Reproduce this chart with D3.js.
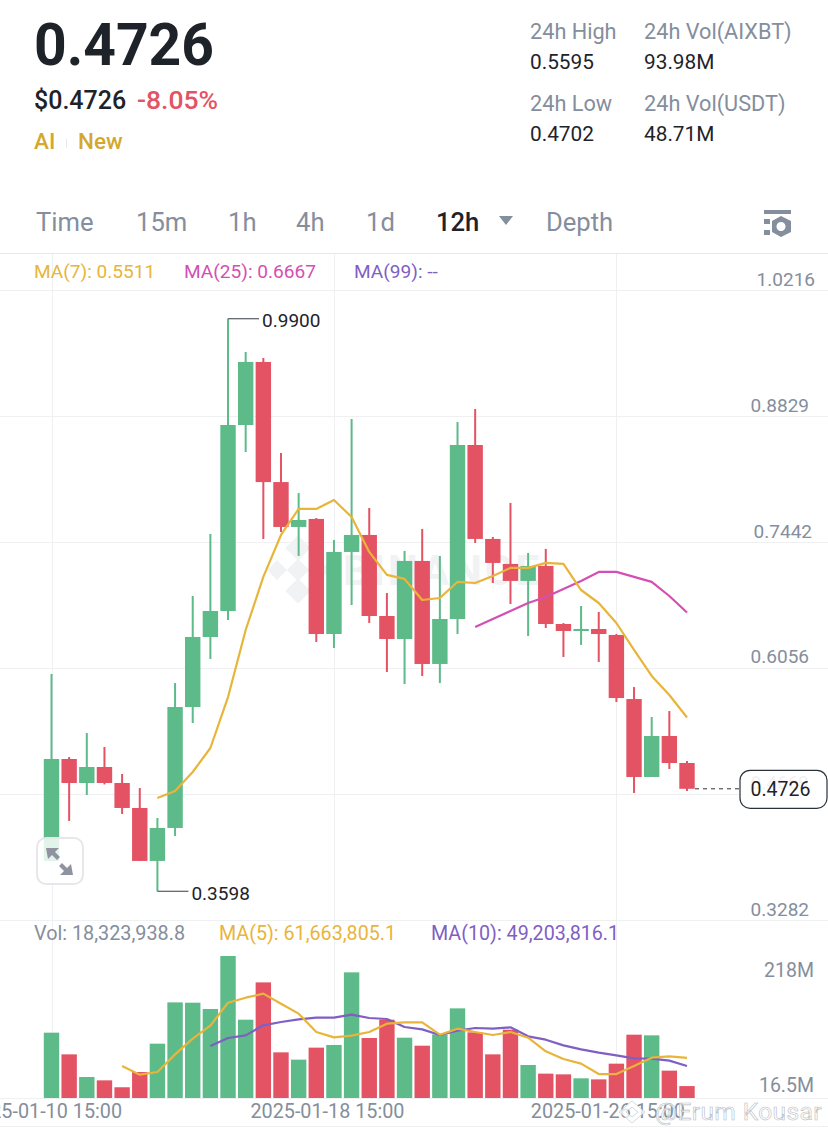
<!DOCTYPE html>
<html>
<head>
<meta charset="utf-8">
<script src="https://cdn.jsdelivr.net/npm/d3@7"></script>
<style>
  html, body { margin: 0; padding: 0; background: #fff; overflow: hidden; }
  svg { display: block; }
  text { font-family: Roboto, sans-serif; }
</style>
</head>
<body>
<div id="chart"></div>
<script>
// candles, 12h each
const opens  = [.3932,.5054,.4790,.4966,.4790,.4515,.3932,.4295,.5626,.6397,.6683,.8730,.9424,.8102,.7608,.7696,.6430,.7333,.7520,.6628,.6375,.7234,.6100,.6595,.8510,.7476,.7201,.7014,.7179,.6540,.6463,.6485,.6419,.5714,.4856,.5307,.5010];
const closes = [.5054,.4790,.4966,.4790,.4515,.3932,.4295,.5626,.6397,.6683,.8730,.9424,.8102,.7608,.7685,.6430,.7333,.7520,.6628,.6375,.7234,.6100,.6595,.8510,.7476,.7212,.7014,.7179,.6540,.6463,.6485,.6430,.5725,.4856,.5307,.5010,.4726];
const highs  = [.5990,.5076,.5340,.5186,.4889,.4735,.4405,.5890,.6848,.7531,.9900,.9534,.9468,.8422,.7982,.7706,.7465,.8796,.7817,.6881,.7344,.7586,.7289,.8763,.8906,.7498,.7872,.7322,.7366,.6550,.6738,.6672,.6430,.5846,.5516,.5582,.5032];
const lows   = [.3932,.4372,.4658,.4774,.4449,.3932,.3598,.4207,.5450,.6155,.6584,.8433,.7476,.7553,.7289,.6342,.6276,.6749,.6551,.6012,.5879,.5968,.5890,.6430,.7432,.6991,.6760,.6408,.6496,.6177,.6309,.6122,.5681,.4680,.4856,.4944,.4702];

const ma7 = [null,null,null,null,null,null,.4625,.4702,.4911,.5175,.5736,.6474,.7058,.7520,.7806,.7806,.7905,.7718,.7333,.7080,.7036,.6804,.6826,.7003,.6991,.7069,.7157,.7157,.7212,.7201,.6914,.6771,.6551,.6254,.5968,.5758,.5511];
const ma25 = [null,null,null,null,null,null,null,null,null,null,null,null,null,null,null,null,null,null,null,null,null,null,null,null,.6507,.6595,.6683,.6771,.6837,.6925,.7014,.7113,.7113,.7058,.7003,.6848,.6667];

// volume in millions
const volumes = [100.3,67.0,32.2,27.1,16.5,39.9,83.4,146.8,146.3,136.6,218,120.2,177.5,70.1,58.9,77.3,81.4,192.9,92.1,120.2,92.6,80.3,97.7,137.6,100.8,67.0,104.9,50.7,37.4,36.3,30.2,28.6,52.7,97.2,96.2,42.0,18.3];
const volMa5 = [null,null,null,null,49.1,35.8,39.9,67.0,91.1,111.0,146.3,154.0,160.2,144.8,129.5,101.3,93.1,95.7,101.3,114.1,116.2,116.2,97.2,106.4,101.3,96.7,101.3,92.6,71.6,59.9,52.7,36.8,36.8,49.1,61.9,64.0,61.66];
const volMa10 = [null,null,null,null,null,null,null,null,null,79.8,92.1,96.2,111.6,116.7,120.8,123.3,123.3,127.9,122.8,121.3,109.0,105.4,96.7,103.4,107.5,106.4,108.5,94.7,89.5,80.8,74.7,69.6,65.5,60.9,60.4,57.3,49.2];

// axis labels
const priceTicks = [1.0216,.8829,.7442,.6056,.4669,.3282];
const volTicks = [218,16.5];
const timeTicks = [0,16,32];
const timeLabels = ["2025-01-10 15:00","2025-01-18 15:00","2025-01-26 15:00"];
const tabs = ["Time","15m","1h","4h","1d","12h","Depth"];
const lastPrice = .4726, maxPrice = .9900, minPrice = .3598;

const colors = { green: "#5dba89", red: "#e45363", ink: "#1e2329", grey: "#848e9c", grid: "#eef0f2",
                 yellow: "#e8b53a", pink: "#d44fb3", purple: "#7f5fc4", gold: "#d4a82c" };

const width = 828, height = 1133;
const svg = d3.select("#chart").append("svg").attr("width", width).attr("height", height);

const x = d3.scaleLinear().domain([0, 36]).range([51.5, 687]);
const y = d3.scaleLinear().domain([.3282, 1.0216]).range([920, 290]);
const yVol = d3.scaleLinear().domain([0, 218]).range([1098, 956]);
const bodyW = 15.4;

function label(text, px, py, size, fill, weight, anchor) {
    return svg.append("text").attr("x", px).attr("y", py)
        .attr("font-size", size).attr("fill", fill)
        .attr("font-weight", weight || 400)
        .attr("text-anchor", anchor || "start")
        .text(text);
}

// ---- header ----
label("0.4726", 34, 65, 60, colors.ink, 700).attr("textLength", 180).attr("lengthAdjust", "spacingAndGlyphs");
label("$0.4726", 34, 109, 25, colors.ink, 500);
label("-8.05%", 137, 109, 26.5, colors.red, 500);
label("AI", 34, 149, 22.5, colors.gold, 500);
svg.append("rect").attr("x", 66).attr("y", 139).attr("width", 1).attr("height", 9).attr("fill", "#e6e8ea");
label("New", 78, 149, 22.5, colors.gold, 500);

label("24h High", 530, 39, 21.7, colors.grey);
label("0.5595", 530, 69, 20.8, colors.ink);
label("24h Low", 530, 111, 21.7, colors.grey);
label("0.4702", 530, 141, 20.8, colors.ink);
label("24h Vol(AIXBT)", 644, 39, 21.7, colors.grey);
label("93.98M", 644, 69, 20.8, colors.ink);
label("24h Vol(USDT)", 644, 111, 21.7, colors.grey);
label("48.71M", 644, 141, 20.8, colors.ink);

// ---- tabs ----
const tabX = [36, 136, 228, 296, 366, 436, 546];
tabs.forEach((t, i) => {
    const on = t === "12h";
    label(t, tabX[i], 231, 25.6, on ? colors.ink : colors.grey, on ? 500 : 400);
});
svg.append("path").attr("d", "M499,216h14l-7,9z").attr("fill", colors.grey);

// settings icon
const icon = svg.append("g").attr("fill", colors.grey);
icon.append("rect").attr("x", 764).attr("y", 210).attr("width", 27).attr("height", 4);
icon.append("rect").attr("x", 764).attr("y", 219).attr("width", 6).attr("height", 5);
icon.append("rect").attr("x", 764).attr("y", 230).attr("width", 6).attr("height", 5);
icon.append("path").attr("fill-rule", "evenodd")
    .attr("d", "M781,216l10,5v11l-10,5l-9,-5v-11z M781,222a4.5,4.5 0 1,0 0.01,0z");

// ---- grid ----
svg.append("line").attr("x1", 0).attr("x2", width).attr("y1", 253.5).attr("y2", 253.5).attr("stroke", "#e6e8ea");
const grid = svg.append("g").attr("stroke", colors.grid).attr("stroke-width", 1);
grid.selectAll(".h").data(priceTicks).join("line")
    .attr("x1", 0).attr("x2", width)
    .attr("y1", d => Math.round(y(d)) + .5).attr("y2", d => Math.round(y(d)) + .5);
grid.selectAll(".v").data(timeTicks).join("line")
    .attr("x1", d => Math.round(x(d)) + .5).attr("x2", d => Math.round(x(d)) + .5)
    .attr("y1", 254).attr("y2", 1098);
svg.append("line").attr("x1", 0).attr("x2", width).attr("y1", 1098.5).attr("y2", 1098.5).attr("stroke", colors.grid);
svg.append("line").attr("x1", 0).attr("x2", width).attr("y1", 1126.5).attr("y2", 1126.5).attr("stroke", colors.grid);

// ---- exchange watermark behind the candles ----
const wm = svg.append("g").attr("fill", "#f1f2f3");
[[298, 548, 9], [298, 591, 9], [277, 570, 7], [320, 570, 7], [298, 570, 8]].forEach(p => {
    wm.append("rect").attr("x", -p[2]).attr("y", -p[2]).attr("width", p[2] * 2).attr("height", p[2] * 2)
        .attr("transform", `translate(${p[0]},${p[1]}) rotate(45)`);
});
wm.append("text").attr("x", 343).attr("y", 585).attr("font-size", 42).attr("font-weight", 700)
    .attr("letter-spacing", 3).text("BINANCE");

// ---- volume bars ----
svg.append("g").selectAll("rect").data(volumes).join("rect")
    .attr("x", (d, i) => x(i) - bodyW / 2)
    .attr("y", d => yVol(d))
    .attr("width", bodyW)
    .attr("height", d => yVol(0) - yVol(d))
    .attr("fill", (d, i) => closes[i] >= opens[i] ? colors.green : colors.red);

// ---- candles ----
const candles = svg.append("g").selectAll("g").data(opens).join("g")
    .attr("fill", (d, i) => closes[i] >= opens[i] ? colors.green : colors.red);
candles.append("rect")
    .attr("x", (d, i) => x(i) - 1)
    .attr("y", (d, i) => y(highs[i]))
    .attr("width", 2)
    .attr("height", (d, i) => y(lows[i]) - y(highs[i]));
candles.append("rect")
    .attr("x", (d, i) => x(i) - bodyW / 2)
    .attr("y", (d, i) => y(Math.max(opens[i], closes[i])))
    .attr("width", bodyW)
    .attr("height", (d, i) => Math.max(2, Math.abs(y(opens[i]) - y(closes[i]))));

// ---- moving averages ----
function maLine(values, scale, color) {
    const line = d3.line().defined(d => d !== null).x((d, i) => x(i)).y(d => scale(d));
    svg.append("path").attr("d", line(values)).attr("fill", "none")
        .attr("stroke", color).attr("stroke-width", 2.2).attr("stroke-linejoin", "round");
}
maLine(ma25, y, colors.pink);
maLine(ma7, y, colors.yellow);
maLine(volMa10, yVol, colors.purple);
maLine(volMa5, yVol, colors.yellow);

// ---- high / low callouts ----
const hiIdx = highs.indexOf(maxPrice), loIdx = lows.indexOf(minPrice);
svg.append("line").attr("x1", x(hiIdx)).attr("x2", x(hiIdx) + 31).attr("y1", y(maxPrice)).attr("y2", y(maxPrice)).attr("stroke", "#555b63").attr("stroke-width", 1.2);
label(maxPrice.toFixed(4), x(hiIdx) + 34, y(maxPrice) + 8, 19, colors.ink);
svg.append("line").attr("x1", x(loIdx)).attr("x2", x(loIdx) + 31).attr("y1", y(minPrice)).attr("y2", y(minPrice)).attr("stroke", "#555b63").attr("stroke-width", 1.2);
label(minPrice.toFixed(4), x(loIdx) + 34, y(minPrice) + 8.5, 19, colors.ink);

// ---- axes ----
const axisPrice = svg.append("g").attr("transform", "translate(809,0)")
    .call(d3.axisLeft(y).tickValues(priceTicks).tickFormat(d3.format(".4f")).tickSize(0).tickPadding(0));
axisPrice.select(".domain").remove();
axisPrice.selectAll("text").attr("dy", "-5px").attr("font-size", 19).attr("fill", colors.grey).style("font-family", "Roboto, sans-serif")
    .attr("dx", d => d === 1.0216 ? "6px" : d === .7442 ? "3px" : "0px");

const axisVol = svg.append("g").attr("transform", "translate(814,0)")
    .call(d3.axisLeft(yVol).tickValues(volTicks).tickFormat(d => d + "M").tickSize(0).tickPadding(0));
axisVol.select(".domain").remove();
axisVol.selectAll("text").attr("font-size", 19.5).attr("fill", colors.grey).style("font-family", "Roboto, sans-serif")
    .attr("dy", d => d === 218 ? "20px" : "4px");

const axisTime = svg.append("g").attr("transform", "translate(-7,1098)")
    .call(d3.axisBottom(x).tickValues(timeTicks).tickFormat((d, i) => timeLabels[i]).tickSize(0).tickPadding(6));
axisTime.select(".domain").remove();
axisTime.selectAll("text").attr("font-size", 19.8).attr("fill", colors.grey).style("font-family", "Roboto, sans-serif")
    .attr("dx", d => d === 32 ? "-2px" : "0px");

// ---- legends ----
label("MA(7): 0.5511", 34, 278, 19.1, colors.yellow);
label("MA(25): 0.6667", 184, 278, 19.1, colors.pink);
label("MA(99): --", 354, 278, 19.1, colors.purple);
label("Vol: 18,323,938.8", 34, 940, 19.8, colors.grey);
label("MA(5): 61,663,805.1", 219, 940, 19.7, colors.yellow);
label("MA(10): 49,203,816.1", 431, 940, 19.7, colors.purple);

// ---- current price tag, slightly see-through like the app ----
svg.append("line").attr("x1", x(36) + 8).attr("x2", 740).attr("y1", y(lastPrice)).attr("y2", y(lastPrice))
    .attr("stroke", "#333").attr("stroke-dasharray", "4 4");
svg.append("rect").attr("x", 740).attr("y", y(lastPrice) - 18.5).attr("width", 87).attr("height", 38).attr("rx", 10)
    .attr("fill", "#fff").attr("fill-opacity", .88).attr("stroke", "#2b3139").attr("stroke-width", 1.2);
label(lastPrice.toFixed(4), 780.5, y(lastPrice) + 7.5, 19.5, colors.ink, 400, "middle");

// ---- expand button ----
svg.append("rect").attr("x", 37).attr("y", 838).attr("width", 46).attr("height", 46).attr("rx", 9)
    .attr("fill", "#fff").attr("fill-opacity", .82).attr("stroke", "#e6e7eb").attr("stroke-width", 2);
svg.append("path").attr("fill", "#8f939f")
    .attr("d", "M46,848h13l-4,4l5,5l-3,3l-5,-5l-4,4z M73,875h-13l4,-4l-5,-5l3,-3l5,5l4,-4z");

// ---- author watermark ----
const mark = svg.append("g").attr("fill", "#fff").attr("fill-opacity", .75).attr("stroke", "#b9bdc4").attr("stroke-width", .6);
mark.append("path").attr("d", "M632,1101l13,11l-13,11l-13,-11z M632,1107l6,5l-6,5l-6,-5z").attr("fill-rule", "evenodd");
mark.append("text").attr("x", 655).attr("y", 1120).attr("font-size", 24.5).attr("letter-spacing", .4).text("@Erum Kousar");
</script>
</body>
</html>
